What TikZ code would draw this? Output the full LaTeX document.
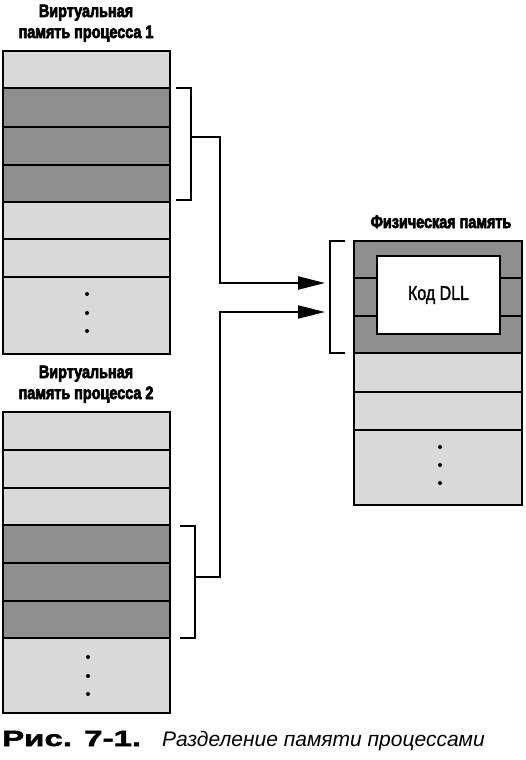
\documentclass[tikz,border=0pt]{standalone}
\usepackage{fontspec}
\usetikzlibrary{arrows.meta,calc}
\setmainfont{Liberation Sans}
\newfontfamily\titlefont[FakeStretch=0.8,FakeBold=3.5]{Liberation Sans Bold}
\newfontfamily\dllfont[FakeStretch=0.8,FakeBold=1.5]{Liberation Sans}
\newfontfamily\capboldfont[FakeStretch=1.5,FakeBold=2.5]{Liberation Sans Bold}
\definecolor{lightrow}{gray}{0.85}
\definecolor{darkrow}{gray}{0.56}
\tikzset{
  x=1pt,y=-1pt,
  memrow/.style={draw=black,line width=2.6pt,inner sep=0pt,minimum width=167pt,outer sep=0pt},
  lrow/.style={memrow,fill=lightrow},
  drow/.style={memrow,fill=darkrow},
  brk/.style={line width=2.2pt},
  conn/.style={line width=2.2pt,-{Triangle[length=27pt,width=13pt]}},
  dotm/.style={circle,fill=black,inner sep=0pt,minimum size=4pt},
  titletext/.style={font=\titlefont\fontsize{18}{21}\selectfont,align=center,inner sep=0pt}
}
\begin{document}
\begin{tikzpicture}
\useasboundingbox[fill=white] (0,0) rectangle (526,760);
% titles
\node[titletext,anchor=base] (t1) at (86,38) {Виртуальная\\память процесса 1};
\node[titletext,anchor=base] (t2) at (86,399) {Виртуальная\\память процесса 2};
\node[titletext,anchor=base] (t3) at (441,228) {Физическая память};
% stack 1
\node[lrow,minimum height=37pt] (a1) at (86.5,69.5) {};
\node[drow,minimum height=39pt] (a2) at (86.5,107.5) {};
\node[drow,minimum height=38pt] (a3) at (86.5,146) {};
\node[drow,minimum height=37pt] (a4) at (86.5,183.5) {};
\node[lrow,minimum height=37pt] (a5) at (86.5,220.5) {};
\node[lrow,minimum height=38pt] (a6) at (86.5,258) {};
\node[lrow,minimum height=77pt] (a7) at (86.5,315.5) {};
\node[dotm] (ad1) at (87,294) {};
\node[dotm] (ad2) at (87,313) {};
\node[dotm] (ad3) at (87,331) {};
% stack 2
\node[lrow,minimum height=38pt] (b1) at (86.5,431) {};
\node[lrow,minimum height=38pt] (b2) at (86.5,469) {};
\node[lrow,minimum height=37pt] (b3) at (86.5,506.5) {};
\node[drow,minimum height=38pt] (b4) at (86.5,544) {};
\node[drow,minimum height=38pt] (b5) at (86.5,582) {};
\node[drow,minimum height=37pt] (b6) at (86.5,619.5) {};
\node[lrow,minimum height=75pt] (b7) at (86.5,675.5) {};
\node[dotm] (bd1) at (88,657) {};
\node[dotm] (bd2) at (88,676) {};
\node[dotm] (bd3) at (88,694) {};
% physical memory
\node[drow,minimum width=168pt,minimum height=37pt] (p1) at (438,259.5) {};
\node[drow,minimum width=168pt,minimum height=38pt] (p2) at (438,297) {};
\node[drow,minimum width=168pt,minimum height=37pt] (p3) at (438,334.5) {};
\node[lrow,minimum width=168pt,minimum height=39pt] (p4) at (438,372.5) {};
\node[lrow,minimum width=168pt,minimum height=38pt] (p5) at (438,411) {};
\node[lrow,minimum width=168pt,minimum height=75pt] (p6) at (438,467.5) {};
\node[dotm] (pd1) at (440,447) {};
\node[dotm] (pd2) at (440,465) {};
\node[dotm] (pd3) at (440,483) {};
\node[draw=black,line width=2.6pt,fill=white,minimum width=123pt,minimum height=78pt,inner sep=0pt,font=\dllfont\fontsize{20}{22}\selectfont] (dll) at (438.5,295) {Код DLL};
% brackets
\coordinate (k1t) at (176,88);
\coordinate (k1b) at (176,200);
\coordinate (k1m) at (191,137);
\draw[brk] (k1t) -| (k1m |- k1b) -- (k1b);
\coordinate (k2t) at (180,526);
\coordinate (k2b) at (180,638);
\coordinate (k2m) at (195,577);
\draw[brk] (k2t) -| (k2m |- k2b) -- (k2b);
\coordinate (k3t) at (345,241);
\coordinate (k3b) at (345,353);
\coordinate (k3v) at (330,241);
\draw[brk] (k3t) -- (k3v) |- (k3b);
% connectors
\coordinate (j1) at (220,137);
\coordinate (e1) at (325,283);
\coordinate (j2) at (220,577);
\coordinate (e2) at (325,312);
\draw[conn] (k1m) -- (j1) |- (e1);
\draw[conn] (k2m) -- (j2) |- (e2);
% caption
\node[anchor=base west,inner sep=0pt,font=\capboldfont\fontsize{22}{24}\selectfont] (cap) at (2,746) {Рис. 7-1.};
\node[anchor=base west,inner sep=0pt,font=\itshape\fontsize{21}{24}\selectfont] (capt) at (162,746) {Разделение памяти процессами};
\end{tikzpicture}
\end{document}
